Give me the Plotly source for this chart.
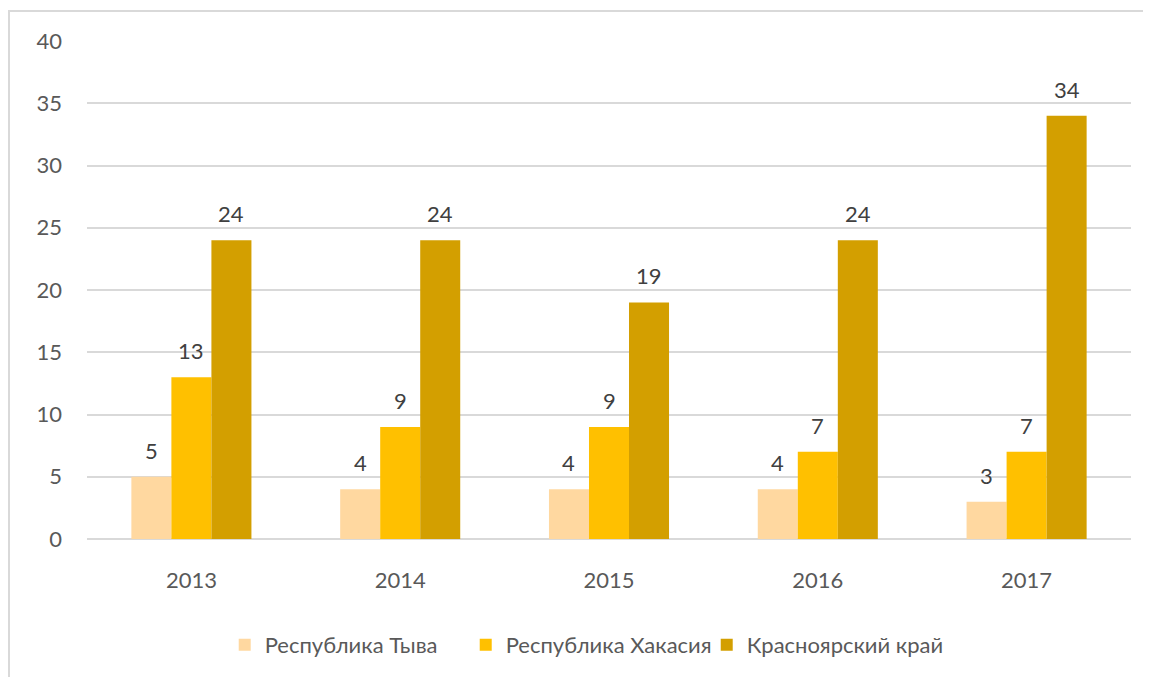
import plotly.graph_objects as go

years = ["2013", "2014", "2015", "2016", "2017"]
tyva = [5, 4, 4, 4, 3]
khakasia = [13, 9, 9, 7, 7]
krasnoyarsk = [24, 24, 19, 24, 34]
series_names = ["Республика Тыва", "Республика Хакасия", "Красноярский край"]
colors = ["#FFD8A0", "#FFC000", "#D39F00"]
y_ticks = [0, 5, 10, 15, 20, 25, 30, 35, 40]

FONT = "Lato"
FS = 22
BARGAP = 0.425

fig = go.Figure()
all_series = [tyva, khakasia, krasnoyarsk]
for name, vals, col in zip(series_names, all_series, colors):
    fig.add_trace(go.Bar(x=years, y=vals, name=name, marker=dict(color=col, line=dict(width=0))))

bw = (1 - BARGAP) / 3
annotations = []
for j, vals in enumerate(all_series):
    for i, v in enumerate(vals):
        annotations.append(dict(
            x=i + (j - 1) * bw, y=v, xref="x", yref="y",
            text=str(v), showarrow=False, yanchor="bottom", yshift=11,
            font=dict(family=FONT, size=FS, color="#404040"),
        ))

# page body has an 8px margin, so figure is drawn 8px in from top-left
OFF = 8
W, H = 1151 - OFF, 677 - OFF
ml, mr, mt = 87 - OFF, 20, 41 - OFF
ph = 499
mb = H - mt - ph
pw = W - ml - mr

fig.update_layout(
    width=W, height=H,
    margin=dict(l=ml, r=mr, t=mt, b=mb),
    paper_bgcolor="white", plot_bgcolor="white",
    barmode="group", bargap=BARGAP, bargroupgap=0,
    font=dict(family=FONT, size=FS, color="#595959"),
    showlegend=True,
    legend=dict(orientation="h", x=(581 - 87) / pw + 0.005, xanchor="center", y=(540 - 645) / ph, yanchor="middle",
                font=dict(family=FONT, size=FS, color="#595959"), itemwidth=30,
                entrywidth=196, traceorder="normal"),
    annotations=annotations,
    shapes=[dict(type="rect", xref="paper", yref="paper",
                 x0=(9 - 87) / pw, x1=1.2, y0=-0.6, y1=1 + (41 - 11) / ph,
                 line=dict(color="#D9D9D9", width=2), layer="below")],
)
fig.update_xaxes(type="category", showgrid=False, showline=False, zeroline=False,
                 ticks="", ticklabelstandoff=26,
                 tickfont=dict(family=FONT, size=FS, color="#595959"))
fig.update_yaxes(range=[0, 40], tickvals=y_ticks, showgrid=True, gridcolor="#D9D9D9", gridwidth=2,
                 zeroline=True, zerolinecolor="#D9D9D9", zerolinewidth=2, showline=False,
                 ticks="", ticklabelstandoff=24,
                 tickfont=dict(family=FONT, size=FS, color="#595959"))

fig.write_html("out.html")
